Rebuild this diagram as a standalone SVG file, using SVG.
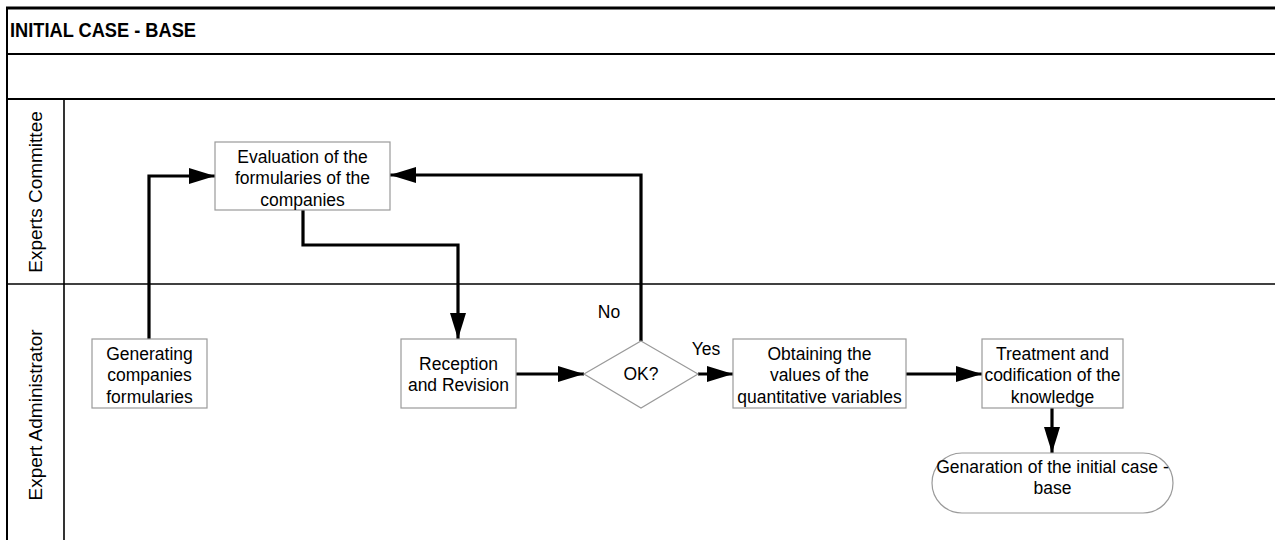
<svg xmlns="http://www.w3.org/2000/svg" width="1275" height="540" viewBox="0 0 1275 540">
<defs>
<style>
text{font-family:"Liberation Sans",Arial,sans-serif;fill:#000}
.t{font-size:17.5px;text-anchor:middle}
.lane{font-size:19px;text-anchor:middle}
.box{fill:#fff;stroke:#9a9a9a;stroke-width:1.2}
.frame{stroke:#000;fill:none}
.c{fill:none;stroke:#000;stroke-width:3.2}
</style>
<marker id="ah" markerUnits="userSpaceOnUse" markerWidth="27" markerHeight="17" refX="26" refY="8" orient="auto">
<path d="M0,0 L26,8 L0,16 z" fill="#000"/>
</marker>
</defs>
<rect width="1275" height="540" fill="#fff"/>
<g id="frame">
<line class="frame" x1="6" y1="8" x2="1275" y2="8" stroke-width="3"/>
<line class="frame" x1="7" y1="7" x2="7" y2="540" stroke-width="2"/>
<line class="frame" x1="7" y1="54" x2="1275" y2="54" stroke-width="2"/>
<line class="frame" x1="7" y1="99" x2="1275" y2="99" stroke-width="2"/>
<line class="frame" x1="64" y1="99" x2="64" y2="540" stroke-width="1.6"/>
<line class="frame" x1="7" y1="284" x2="1275" y2="284" stroke-width="1.6"/>
<text x="10" y="37" font-size="20.5" font-weight="bold" textLength="186" lengthAdjust="spacingAndGlyphs">INITIAL CASE - BASE</text>
<text class="lane" transform="translate(42,192) rotate(-90)">Experts Committee</text>
<text class="lane" transform="translate(42,415) rotate(-90)">Expert Administrator</text>
</g>
<g id="connectors">
<path class="c" d="M149,339 V176 H215" marker-end="url(#ah)"/>
<path class="c" d="M303,210 V245 H458 V339" marker-end="url(#ah)"/>
<path class="c" d="M516,374 H584" marker-end="url(#ah)"/>
<path class="c" d="M641,341 V175 H390" marker-end="url(#ah)"/>
<path class="c" d="M698,374 H733" marker-end="url(#ah)"/>
<path class="c" d="M906,374 H982" marker-end="url(#ah)"/>
<path class="c" d="M1052,408 V453" marker-end="url(#ah)"/>
<text class="t" x="609" y="318">No</text>
<text class="t" x="706" y="355">Yes</text>
</g>
<g id="evaluation">
<rect class="box" x="215" y="142" width="175" height="68"/>
<text class="t" x="302.5" y="162.5">Evaluation of the</text>
<text class="t" x="302.5" y="184">formularies of the</text>
<text class="t" x="302.5" y="205.5">companies</text>
</g>
<g id="generating">
<rect class="box" x="92" y="339" width="115" height="69"/>
<text class="t" x="149.5" y="359.5">Generating</text>
<text class="t" x="149.5" y="381">companies</text>
<text class="t" x="149.5" y="402.5">formularies</text>
</g>
<g id="reception">
<rect class="box" x="401" y="339" width="115" height="69"/>
<text class="t" x="458.5" y="369.5">Reception</text>
<text class="t" x="458.5" y="390.5">and Revision</text>
</g>
<g id="ok">
<path class="box" d="M641,341 L698,374 L641,408 L584,374 z"/>
<text class="t" x="641" y="380">OK?</text>
</g>
<g id="obtaining">
<rect class="box" x="733" y="339" width="173" height="69"/>
<text class="t" x="819.5" y="359.5">Obtaining the</text>
<text class="t" x="819.5" y="381">values of the</text>
<text class="t" x="819.5" y="402.5">quantitative variables</text>
</g>
<g id="treatment">
<rect class="box" x="982" y="339" width="141" height="69"/>
<text class="t" x="1052.5" y="359.5">Treatment and</text>
<text class="t" x="1052.5" y="381">codification of the</text>
<text class="t" x="1052.5" y="402.5">knowledge</text>
</g>
<g id="generation">
<rect class="box" x="932" y="453" width="241" height="60" rx="30" ry="30"/>
<text class="t" x="1052.5" y="472.5">Genaration of the initial case -</text>
<text class="t" x="1052.5" y="493.5">base</text>
</g>
</svg>
